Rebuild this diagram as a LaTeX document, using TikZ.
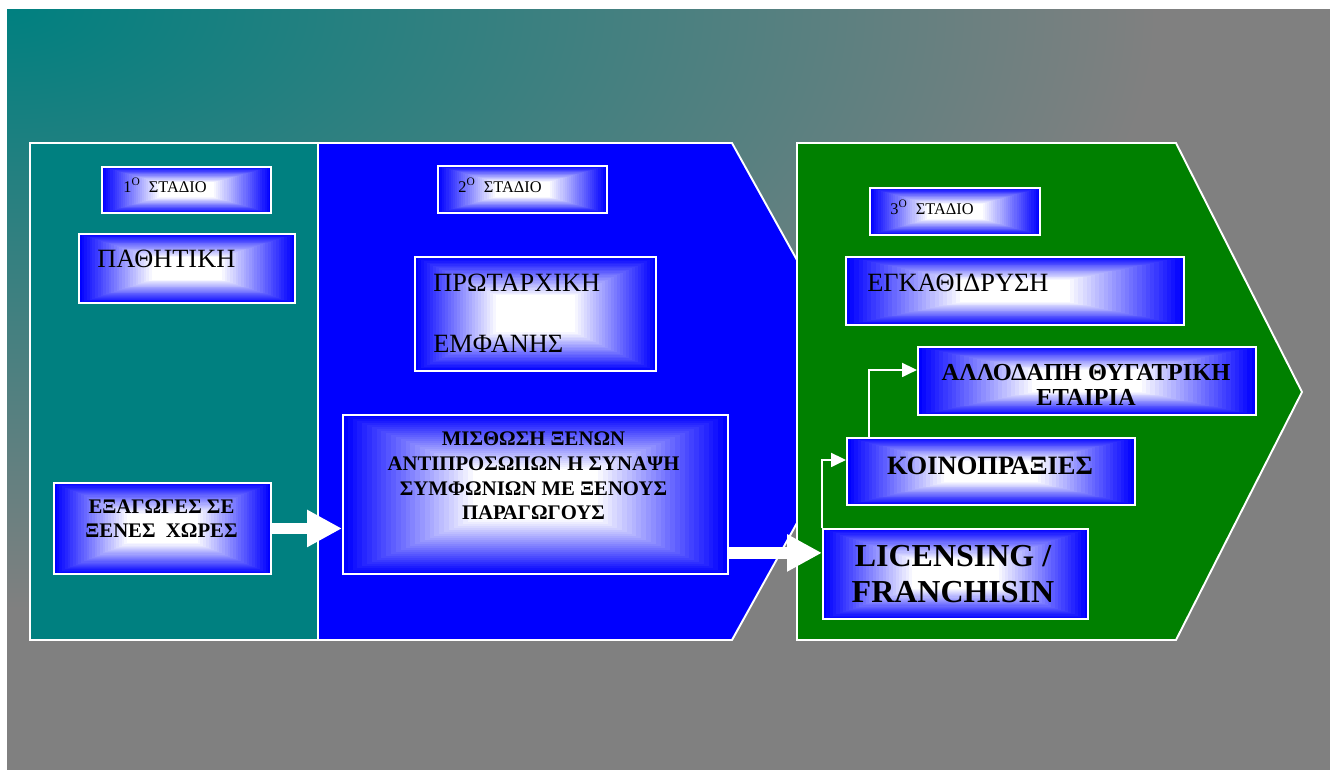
\documentclass[tikz,border=0pt]{standalone}
\usepackage{fontspec}
\setmainfont{Liberation Serif}
\usetikzlibrary{arrows.meta,calc}
\definecolor{tealc}{RGB}{0,128,128}
\definecolor{grayc}{RGB}{128,128,128}
\definecolor{bluec}{RGB}{0,0,255}
\definecolor{greenc}{RGB}{0,128,0}
\pgfdeclareradialshading{bgglow}{\pgfpoint{0bp}{0bp}}{color(0bp)=(tealc); color(19bp)=(grayc); color(50bp)=(grayc)}
\tikzset{
  stagebox/.style={draw=white, line width=1.1pt},
  glowbox/.style={draw=white, line width=1.1pt, fill=bluec, anchor=north west, inner sep=0pt,
    path picture={
      \foreach \i [evaluate=\i as \p using {min(100,100*\i/27)}] in {1,...,30}{
        \fill[white!\p!bluec] ($(path picture bounding box.north west)!\i/80!(path picture bounding box.south east)$) rectangle ($(path picture bounding box.south east)!\i/80!(path picture bounding box.north west)$);
      }}},
  ltext/.style={anchor=base west, inner sep=0pt, text=black},
  ctext/.style={anchor=center, inner sep=0pt, align=center, text=black, font=\bfseries},
  blockarrow/.style={draw=white, -{Triangle[length=0.7cm,width=0.7cm]}},
  conn/.style={draw=white, line width=1.1pt, -{Triangle[length=0.3cm,width=0.28cm]}}
}
\begin{document}
\begin{tikzpicture}[x=0.02cm,y=-0.02cm]
\useasboundingbox (0,0) rectangle (1330,769);
\fill[white] (0,0) rectangle (1330,769);
\begin{scope}
  \clip (7,9) rectangle (1330,769);
  \shade[shading=bgglow] (-1506,-780) rectangle (1520,798);
\end{scope}
% stage areas
\filldraw[stagebox, fill=tealc] (30,143) rectangle (372,640);
\filldraw[stagebox, fill=bluec] (318,143) -- (732,143) -- (870,391.5) -- (732,640) -- (318,640) -- cycle;
\filldraw[stagebox, fill=greenc] (797,143) -- (1176,143) -- (1302,392) -- (1176,640) -- (797,640) -- cycle;
% boxes
\node[glowbox, minimum width=3.38cm, minimum height=0.92cm] (s1) at (101,166) {};
\node[glowbox, minimum width=4.32cm, minimum height=1.38cm] (pas) at (78,233) {};
\node[glowbox, minimum width=3.38cm, minimum height=0.94cm] (s2) at (437,165) {};
\node[glowbox, minimum width=4.82cm, minimum height=2.28cm] (prot) at (414,256) {};
\node[glowbox, minimum width=4.34cm, minimum height=1.82cm] (exag) at (53,482) {};
\node[glowbox, minimum width=7.70cm, minimum height=3.18cm] (mis) at (342,414) {};
\node[glowbox, minimum width=3.40cm, minimum height=0.94cm] (s3) at (869,187) {};
\node[glowbox, minimum width=6.76cm, minimum height=1.36cm] (egk) at (845,256) {};
\node[glowbox, minimum width=6.76cm, minimum height=1.36cm] (allo) at (917,346) {};
\node[glowbox, minimum width=5.76cm, minimum height=1.34cm] (koino) at (846,437) {};
\node[glowbox, minimum width=5.30cm, minimum height=1.80cm] (lic) at (822,528) {};
% texts
\node[ltext, font=\fontsize{9.3pt}{11pt}\selectfont] (t1) at (123,192) {1\textsuperscript{O}\ \ ΣΤΑΔΙΟ};
\node[ltext, font=\fontsize{9.3pt}{11pt}\selectfont] (t2) at (458,192) {2\textsuperscript{O}\ \ ΣΤΑΔΙΟ};
\node[ltext, font=\fontsize{9.3pt}{11pt}\selectfont] (t3) at (890,214) {3\textsuperscript{O}\ \ ΣΤΑΔΙΟ};
\node[ltext, font=\fontsize{15pt}{18pt}\selectfont] (tpas) at (97,267) {ΠΑΘΗΤΙΚΗ};
\node[ltext, font=\fontsize{15pt}{18pt}\selectfont] (tprot1) at (433,291) {ΠΡΩΤΑΡΧΙΚΗ};
\node[ltext, font=\fontsize{15pt}{18pt}\selectfont] (tprot2) at (433,352) {ΕΜΦΑΝΗΣ};
\node[ltext, font=\fontsize{15pt}{18pt}\selectfont] (tegk) at (867,291) {ΕΓΚΑΘΙΔΡΥΣΗ};
\node[ctext, font=\bfseries\fontsize{11.8pt}{13.6pt}\selectfont] (texag) at (161.5,518.3) {ΕΞΑΓΩΓΕΣ ΣΕ\\ΞΕΝΕΣ\ \ ΧΩΡΕΣ};
\node[ctext, font=\bfseries\fontsize{11.8pt}{14pt}\selectfont] (tmis) at (533.5,476) {ΜΙΣΘΩΣΗ ΞΕΝΩΝ\\ΑΝΤΙΠΡΟΣΩΠΩΝ Η ΣΥΝΑΨΗ\\ΣΥΜΦΩΝΙΩΝ ΜΕ ΞΕΝΟΥΣ\\ΠΑΡΑΓΩΓΟΥΣ};
\node[ctext, font=\bfseries\fontsize{13.9pt}{13.8pt}\selectfont] (tallo) at (1086,385) {ΑΛΛΟΔΑΠΗ ΘΥΓΑΤΡΙΚΗ\\ΕΤΑΙΡΙΑ};
\node[ctext, font=\bfseries\fontsize{15.1pt}{17pt}\selectfont] (tkoino) at (990,465.5) {ΚΟΙΝΟΠΡΑΞΙΕΣ};
\node[ctext, font=\bfseries\fontsize{18.2pt}{20.4pt}\selectfont] (tlic) at (953,574) {LICENSING /\\FRANCHISIN};
% block arrows
\draw[blockarrow, line width=6.3pt] (exag.east) -- (exag.east -| mis.west);
\coordinate (a2s) at ($(mis.south east)+(0,-22)$);
\draw[blockarrow, line width=7.3pt] (a2s) -- (a2s -| lic.west);
% elbow connectors
\draw[conn] (lic.north west) |- ($(koino.west)+(0,-11.5)$);
\draw[conn] ($(koino.north west)+(23,0)$) |- ($(allo.west)+(0,-11)$);
\end{tikzpicture}
\end{document}
